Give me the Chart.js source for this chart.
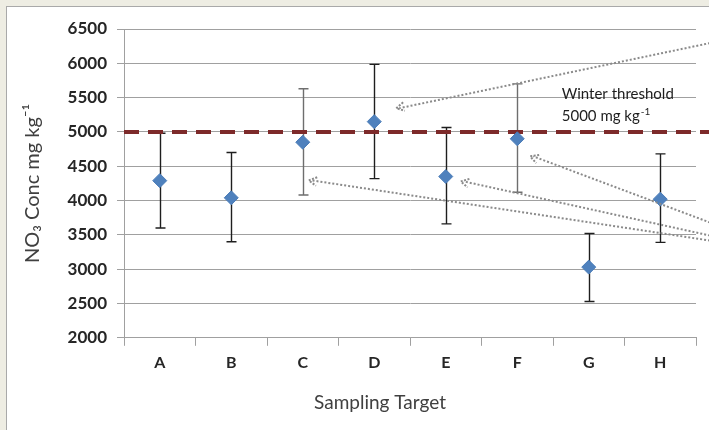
<!DOCTYPE html>
<html>
<head>
<meta charset="utf-8">
<script src="https://cdn.jsdelivr.net/npm/chart.js@4.4.1/dist/chart.umd.min.js"></script>
<style>
  html, body { margin: 0; padding: 0; background: #eeede3; width: 709px; height: 430px; overflow: hidden; }
  #panel { position: absolute; left: 6px; top: 6px; width: 703px; height: 424px; background: #fff;
           border-left: 1px solid #a9a9a9; border-top: 1px solid #a9a9a9; }
  canvas { display: block; }
</style>
</head>
<body>
<div id="panel"><canvas id="no3Chart" width="703" height="424"></canvas></div>
<script>
// Data
const categories = ['A', 'B', 'C', 'D', 'E', 'F', 'G', 'H'];
const meanValues = [4290, 4040, 4850, 5150, 4350, 4900, 3030, 4020];
const upperValues = [4980, 4700, 5630, 5985, 5065, 5700, 3520, 4680];
const lowerValues = [3600, 3400, 4080, 4320, 3660, 4120, 2530, 3390];
const thresholdValue = 5000;
const yMin = 2000, yMax = 6500, yStep = 500;

// Callout arrows: which point, where the tip sits, where the line enters from the right
const arrowTargets = ['C', 'D', 'E', 'F'];
const arrowTipValues = [4294, 5346, 4279, 4644];
const arrowStartValues = [3417, 6295, 3490, 3680];

const FONT = 'Lato, "Open Sans", sans-serif';

// Error bars (drawn under the diamonds)
const errorBars = {
    id: 'errorBars',
    beforeDatasetsDraw(chart, args, opts) {
        const { ctx, scales: { x, y } } = chart;
        ctx.save();
        ctx.lineWidth = 1.4;
        categories.forEach((c, i) => {
            const px = Math.round(x.getPixelForValue(i)) + 0.5;
            const top = y.getPixelForValue(upperValues[i]);
            const bot = y.getPixelForValue(lowerValues[i]);
            ctx.strokeStyle = opts.colors[i];
            ctx.beginPath();
            ctx.moveTo(px, top); ctx.lineTo(px, bot);
            ctx.moveTo(px - opts.cap, top); ctx.lineTo(px + opts.cap, top);
            ctx.moveTo(px - opts.cap, bot); ctx.lineTo(px + opts.cap, bot);
            ctx.stroke();
        });
        ctx.restore();
    }
};

// Dashed threshold line, runs past the plot to the edge
const thresholdLine = {
    id: 'thresholdLine',
    beforeDatasetsDraw(chart) {
        const { ctx, chartArea, scales: { y } } = chart;
        const py = y.getPixelForValue(thresholdValue);
        ctx.save();
        ctx.strokeStyle = '#7d2a2a';
        ctx.lineWidth = 4;
        ctx.setLineDash([15, 9]);
        ctx.beginPath();
        ctx.moveTo(chartArea.left, py);
        ctx.lineTo(chart.width, py);
        ctx.stroke();
        ctx.restore();
    }
};

// Text label, callout arrows and x title
const annotations = {
    id: 'annotations',
    afterDraw(chart, args, opts) {
        const { ctx, chartArea, scales: { x, y } } = chart;
        ctx.save();

        // arrows
        ctx.strokeStyle = '#8a8a8a';
        ctx.lineWidth = 2;
        arrowTargets.forEach((cat, i) => {
            const tx = x.getPixelForValue(categories.indexOf(cat)) + opts.tipOffsets[i];
            const ty = y.getPixelForValue(arrowTipValues[i]);
            const sx = chart.width;
            const sy = y.getPixelForValue(arrowStartValues[i]);
            ctx.setLineDash([2, 2]);
            ctx.beginPath();
            ctx.moveTo(sx, sy);
            ctx.lineTo(tx + 3, ty);
            ctx.stroke();
            const ang = Math.atan2(sy - ty, sx - tx);
            ctx.setLineDash([2, 1.5]);
            ctx.beginPath();
            ctx.moveTo(tx + 9 * Math.cos(ang - 0.5), ty + 9 * Math.sin(ang - 0.5));
            ctx.lineTo(tx, ty);
            ctx.lineTo(tx + 9 * Math.cos(ang + 0.5), ty + 9 * Math.sin(ang + 0.5));
            ctx.stroke();
        });
        ctx.setLineDash([]);

        // threshold label
        const py = y.getPixelForValue(thresholdValue);
        const lx = x.getPixelForValue(categories.indexOf('G')) - 27;
        ctx.fillStyle = '#1e1e1e';
        ctx.textAlign = 'left';
        ctx.textBaseline = 'alphabetic';
        ctx.font = '15px ' + FONT;
        ctx.fillText('Winter threshold', lx, py - 33);
        const line2 = '5000 mg kg';
        ctx.fillText(line2, lx, py - 11);
        const w2 = ctx.measureText(line2).width;
        ctx.font = '10px ' + FONT;
        ctx.fillText('-1', lx + w2 + 1, py - 17);

        // x axis title
        ctx.font = '19px ' + FONT;
        ctx.fillStyle = '#404040';
        ctx.textAlign = 'center';
        ctx.textBaseline = 'middle';
        ctx.fillText('Sampling Target', (chartArea.left + chartArea.right) / 2 - 30, chartArea.bottom + 65);
        ctx.restore();
    }
};

new Chart(document.getElementById('no3Chart'), {
    type: 'line',
    data: {
        labels: categories,
        datasets: [{
            label: 'NO3',
            data: meanValues,
            showLine: false,
            pointStyle: 'rectRot',
            pointRadius: 7,
            pointBackgroundColor: '#4f81bd',
            pointBorderColor: '#4a7cb8',
            pointBorderWidth: 1
        }]
    },
    options: {
        responsive: false,
        animation: false,
        events: [],
        layout: { padding: { top: 22, right: 14, bottom: 52, left: 0 } },
        plugins: {
            legend: { display: false },
            tooltip: { enabled: false },
            errorBars: { cap: 5, colors: ['#1e1e1e', '#1e1e1e', '#6e6e6e', '#1e1e1e', '#1e1e1e', '#6e6e6e', '#1e1e1e', '#1e1e1e'] },
            annotations: { tipOffsets: [6, 22, 15, 13] }
        },
        scales: {
            x: {
                type: 'category',
                offset: true,
                grid: { drawOnChartArea: false, offset: true, tickLength: 8, color: '#a0a0a0' },
                border: { color: '#a0a0a0' },
                ticks: { color: '#262626', padding: 7, font: { family: FONT, size: 16, weight: 'bold' } }
            },
            y: {
                min: yMin,
                max: yMax,
                afterFit(scale) { scale.width = 117; },
                ticks: {
                    stepSize: yStep,
                    color: '#262626',
                    padding: 10,
                    font: { family: FONT, size: 17, weight: 'bold' },
                    callback: (v) => String(v)
                },
                grid: { color: '#a0a0a0', tickLength: 7 },
                border: { color: '#a0a0a0' },
                title: {
                    display: true,
                    text: 'NO₃ Conc mg kg⁻¹',
                    color: '#404040',
                    padding: { top: 14, bottom: 0 },
                    font: { family: FONT, size: 20, weight: 'normal' }
                }
            }
        }
    },
    plugins: [errorBars, thresholdLine, annotations]
});
</script>
</body>
</html>
